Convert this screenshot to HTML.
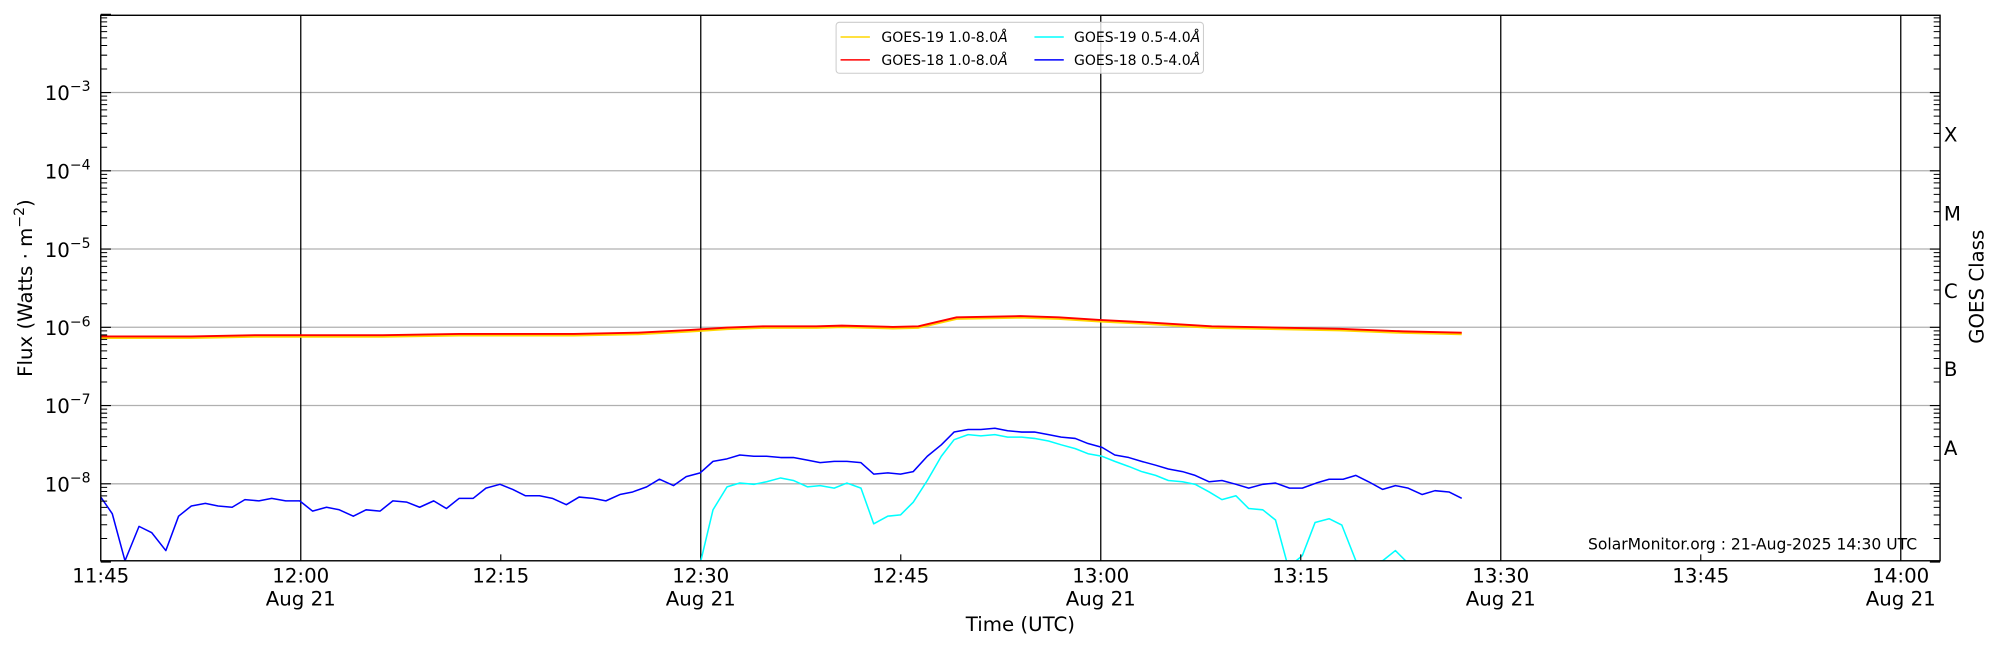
<!DOCTYPE html>
<html><head><meta charset="utf-8"><style>
html,body{margin:0;padding:0;background:#fff}
svg{display:block;font-family:"DejaVu Sans","Liberation Sans",sans-serif}
</style></head><body>
<svg width="2000" height="650" viewBox="0 0 1568 510" preserveAspectRatio="none" xmlns="http://www.w3.org/2000/svg">
<defs>
<clipPath id="pc"><rect x="79" y="12" width="1442" height="428"/></clipPath>
<g id="minL" stroke="#000" stroke-width="0.8">
<path d="M79 -18.5h5M79 -29.3h5M79 -36.9h5M79 -42.9h5M79 -47.8h5M79 -51.9h5M79 -55.4h5M79 -58.6h5"/>
</g>
<g id="minR" stroke="#000" stroke-width="0.8">
<path d="M1521 -18.5h-5M1521 -29.3h-5M1521 -36.9h-5M1521 -42.9h-5M1521 -47.8h-5M1521 -51.9h-5M1521 -55.4h-5M1521 -58.6h-5"/>
</g>
</defs>
<g stroke="#b0b0b0" stroke-width="1">
<path d="M79 72.6H1521M79 134H1521M79 195.4H1521M79 256.8H1521M79 318.2H1521M79 379.6H1521"/>
</g>
<g stroke="#000" stroke-width="1">
<path d="M235.8 12V440M549.4 12V440M863 12V440M1176.6 12V440M1490.2 12V440"/>
</g>
<g clip-path="url(#pc)" fill="none" stroke-linejoin="round">
<polyline stroke="#ffd700" stroke-width="2" points="79,265 150,265 200,264 235,264 300,264 360,263 400,263 450,263 500,262 540,260 570,258 600,257 640,257 660,256.5 700,257.5 720,257 750,250 800,249 830,250 862,252 900,254 950,257 1000,258 1050,259 1100,261 1146,262"/>
<polyline stroke="#ff0000" stroke-width="1.5" points="79,264 150,264 200,263 235,263 300,263 360,262 400,262 450,262 500,261 540,259 570,257 600,256 640,256 660,255.5 700,256.5 720,256 750,249 800,248 830,249 862,251 900,253 950,256 1000,257 1050,258 1100,260 1146,261"/>
<polyline stroke="#00ffff" stroke-width="1.2" points="549,442 559,400 570,382 580,379 591,380 601,378 612,375 622,377 633,382 643,381 654,383 664,379 675,383 685,411 696,405 706,404 716,394 727,377 738,358 748,345 759,341 769,342 780,341 790,343 801,343 811,344 822,346 832,349 843,352 853,356 864,358 874,362 885,366 895,370 906,373 916,377 927,378 937,380 948,386 958,392 969,389 979,399 990,400 1000,408 1010,445 1021,436 1031,410 1042,407 1052,412 1063,440 1073,442 1084,440 1094,432 1104,442"/>
<polyline stroke="#0000ff" stroke-width="1.2" points="79,390 88,403 98,440 109,413 119,418 130,432 140,405 150,397 161,395 171,397 182,398 192,392 203,393 213,391 224,393 235,393 245,401 256,398 266,400 277,405 287,400 298,401 308,393 319,394 329,398 340,393 350,399 360,391 371,391 381,383 392,380 402,384 412,389 423,389 433,391 444,396 454,390 465,391 475,393 486,388 496,386 507,382 517,376 528,381 538,374 549,371 559,362 570,360 580,357 591,358 601,358 612,359 622,359 633,361 643,363 654,362 664,362 675,363 685,372 696,371 706,372 716,370 727,358 738,349 748,339 759,337 769,337 780,336 790,338 801,339 811,339 822,341 832,343 843,344 853,348 864,351 874,357 885,359 895,362 906,365 916,368 927,370 937,373 948,378 958,377 969,380 979,383 990,380 1000,379 1011,383 1021,383 1032,379 1042,376 1053,376 1063,373 1073,378 1084,384 1094,381 1104,383 1115,388 1125,385 1136,386 1146,391"/>
</g>
<g stroke="#000" stroke-width="0.9">
<path d="M79 441h8M79 379.6h8M79 318.2h8M79 256.8h8M79 195.4h8M79 134h8M79 72.6h8M79 11.2h8"/>
<path d="M1521 441h-8M1521 379.6h-8M1521 318.2h-8M1521 256.8h-8M1521 195.4h-8M1521 134h-8M1521 72.6h-8"/>
<path d="M392.6 440v-5M706.2 440v-5M1019.8 440v-5M1333.4 440v-5"/>
</g>
<use href="#minL" transform="translate(0,441)"/><use href="#minL" transform="translate(0,379.6)"/><use href="#minL" transform="translate(0,318.2)"/><use href="#minL" transform="translate(0,256.8)"/><use href="#minL" transform="translate(0,195.4)"/><use href="#minL" transform="translate(0,134)"/><use href="#minL" transform="translate(0,72.6)"/>
<use href="#minR" transform="translate(0,441)"/><use href="#minR" transform="translate(0,379.6)"/><use href="#minR" transform="translate(0,318.2)"/><use href="#minR" transform="translate(0,256.8)"/><use href="#minR" transform="translate(0,195.4)"/><use href="#minR" transform="translate(0,134)"/><use href="#minR" transform="translate(0,72.6)"/>
<rect x="79" y="12" width="1442" height="428" fill="none" stroke="#000" stroke-width="1.1"/>
<g font-size="15.5" text-anchor="end" fill="#000">
<text x="71" y="78.5">10<tspan font-size="11" dy="-7">−3</tspan></text>
<text x="71" y="140">10<tspan font-size="11" dy="-7">−4</tspan></text>
<text x="71" y="201.5">10<tspan font-size="11" dy="-7">−5</tspan></text>
<text x="71" y="263">10<tspan font-size="11" dy="-7">−6</tspan></text>
<text x="71" y="324">10<tspan font-size="11" dy="-7">−7</tspan></text>
<text x="71" y="385.5">10<tspan font-size="11" dy="-7">−8</tspan></text>
</g>
<g font-size="15.5" fill="#000">
<text x="1524" y="111">X</text><text x="1524" y="173">M</text><text x="1524" y="234">C</text><text x="1524" y="295">B</text><text x="1524" y="357">A</text>
</g>
<text transform="translate(1555,225) rotate(-90)" font-size="15.5" text-anchor="middle">GOES Class</text>
<text transform="translate(25,226) rotate(-90)" font-size="15.5" text-anchor="middle">Flux (Watts · m<tspan font-size="11" dy="-6">−2</tspan><tspan dy="6">)</tspan></text>
<g font-size="15.5" text-anchor="middle" fill="#000">
<text x="79" y="457">11:45</text>
<text x="235.8" y="457">12:00</text><text x="235.8" y="475">Aug 21</text>
<text x="392.6" y="457">12:15</text>
<text x="549.4" y="457">12:30</text><text x="549.4" y="475">Aug 21</text>
<text x="706.2" y="457">12:45</text>
<text x="863" y="457">13:00</text><text x="863" y="475">Aug 21</text>
<text x="1019.8" y="457">13:15</text>
<text x="1176.6" y="457">13:30</text><text x="1176.6" y="475">Aug 21</text>
<text x="1333.4" y="457">13:45</text>
<text x="1490.2" y="457">14:00</text><text x="1490.2" y="475">Aug 21</text>
<text x="800" y="495">Time (UTC)</text>
</g>
<text x="1503" y="431" font-size="12.2" text-anchor="end">SolarMonitor.org : 21-Aug-2025 14:30 UTC</text>
<rect x="655.5" y="17.5" width="288" height="40" rx="2.5" fill="#fff" fill-opacity="0.8" stroke="#ccc" stroke-width="0.8"/>
<g stroke-width="1.2">
<path d="M659 29h23" stroke="#ffd700"/><path d="M659 47h23" stroke="#ff0000"/>
<path d="M811 29h23" stroke="#00ffff"/><path d="M811 47h23" stroke="#0000ff"/>
</g>
<g font-size="11" fill="#000">
<text x="691" y="33">GOES-19 1.0-8.0<tspan font-style="italic">Å</tspan></text>
<text x="691" y="51">GOES-18 1.0-8.0<tspan font-style="italic">Å</tspan></text>
<text x="842" y="33">GOES-19 0.5-4.0<tspan font-style="italic">Å</tspan></text>
<text x="842" y="51">GOES-18 0.5-4.0<tspan font-style="italic">Å</tspan></text>
</g>
</svg>
</body></html>
